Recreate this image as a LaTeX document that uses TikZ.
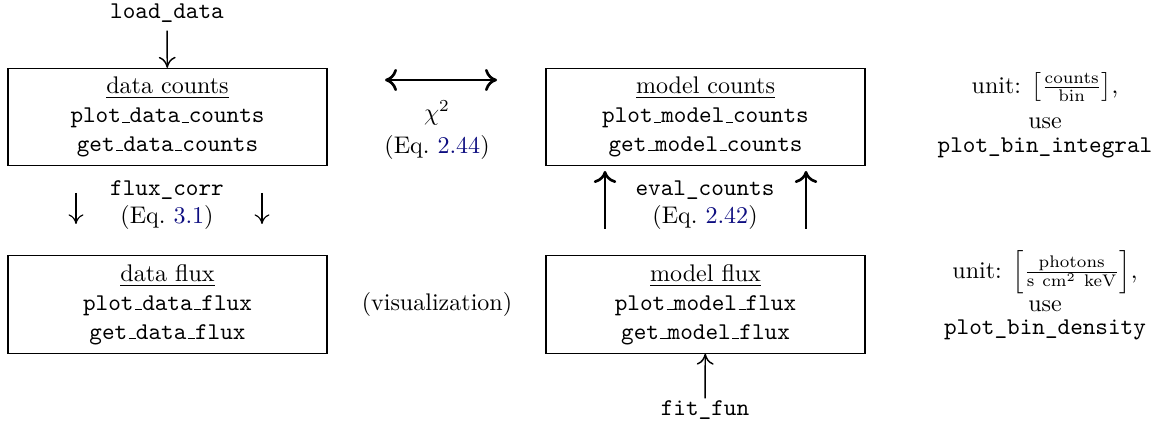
\documentclass[tikz,border=0pt]{standalone}
\usepackage{amsmath}
\usetikzlibrary{arrows.meta}
\definecolor{eqblue}{rgb}{0.05,0.05,0.5}
\newcommand{\lowbar}{\kern.06em\vbox{\hrule width.3em}}
\newcommand{\eqnum}[1]{(Eq.~{\color{eqblue}#1})}
\begin{document}
\begin{tikzpicture}[x=0.416pt,y=0.416pt,yscale=-1,xscale=1,
  spectrumbox/.style={draw,line width=0.45pt,minimum width=132.7pt,minimum height=40.4pt,align=center,inner sep=0pt},
  flowarrow/.style={-{Computer Modern Rightarrow[length=4.6pt,width=7pt]},line width=0.6pt},
  smallarrow/.style={-{Computer Modern Rightarrow[length=4pt,width=6.2pt]},line width=0.5pt},
  boldarrow/.style={-{Computer Modern Rightarrow[length=5pt,width=9.4pt]},line width=1.1pt},
  thickarrow/.style={{Computer Modern Rightarrow[length=5pt,width=9.2pt]}-{Computer Modern Rightarrow[length=5pt,width=9.2pt]},line width=1.1pt},
  plain/.style={inner sep=0.75pt,align=center}]
\useasboundingbox (0,0) rectangle (1174,428);
%Shape: Boxes
\node [spectrumbox] (dcounts) at (167.5,117) {\underline{data counts}\\ \texttt{plot\lowbar data\lowbar counts}\\ \texttt{get\lowbar data\lowbar counts}};
\node [spectrumbox] (mcounts) at (705.5,117) {\underline{model counts}\\ \texttt{plot\lowbar model\lowbar counts}\\ \texttt{get\lowbar model\lowbar counts}};
\node [spectrumbox] (dflux) at (167.5,304.5) {\underline{data flux}\\ \texttt{plot\lowbar data\lowbar flux}\\ \texttt{get\lowbar data\lowbar flux}};
\node [spectrumbox] (mflux) at (705.5,304.5) {\underline{model flux}\\ \texttt{plot\lowbar model\lowbar flux}\\ \texttt{get\lowbar model\lowbar flux}};

% Text Node
\node [plain] (load) at (167,13) {\texttt{load\_data}};
\node [plain] (fitfun) at (705,410) {\texttt{fit\_fun}};
% Text Node
\node [plain] (chi) at (437,113) {$\chi^2$};
\node [plain] (eqchi) at (437,147) {\eqnum{2.44}};
\node [plain] (fluxcorr) at (167,190) {\texttt{flux\_corr}};
\node [plain] (eqflux) at (167,217) {\eqnum{3.1}};
\node [plain] (evalc) at (705,190) {\texttt{eval\_counts}};
\node [plain] (eqeval) at (705,217) {\eqnum{2.42}};
\node [plain] (vis) at (437,304) {(visualization)};
% Text Node
\node [plain] (unitc) at (1045,87) {unit: $\left[\frac{\mathrm{counts}}{\mathrm{bin}}\right]$,};
\node [plain] (usec) at (1045,123) {use};
\node [plain] (binint) at (1045,148) {\texttt{plot\_bin\_integral}};
\node [plain] (unitf) at (1045,272) {unit: $\left[\frac{\mathrm{photons}}{\mathrm{s~cm^2~keV}}\right]$,};
\node [plain] (usef) at (1045,306) {use};
\node [plain] (bindens) at (1045,330) {\texttt{plot\_bin\_density}};

% Arrow ends
\coordinate (chiL) at (385,80);
\coordinate (chiR) at (497,80);
\coordinate (downAtop) at (76,193);
\coordinate (downAbot) at (76,224);
\coordinate (downBtop) at (262,193);
\coordinate (downBbot) at (262,224);
\coordinate (upAbot) at (605,229);
\coordinate (upAtop) at (605,171);
\coordinate (upBbot) at (806,229);
\coordinate (upBtop) at (806,171);

% Arrows
\draw [flowarrow,shorten <=2.5pt] (load) -- (dcounts);
\draw [flowarrow] (fitfun) -- (mflux);
\draw [thickarrow] (chiL) -- (chiR);
\draw [smallarrow] (downAtop) -- (downAbot);
\draw [smallarrow] (downBtop) -- (downBbot);
\draw [boldarrow] (upAbot) -- (upAtop);
\draw [boldarrow] (upBbot) -- (upBtop);
\end{tikzpicture}
\end{document}
